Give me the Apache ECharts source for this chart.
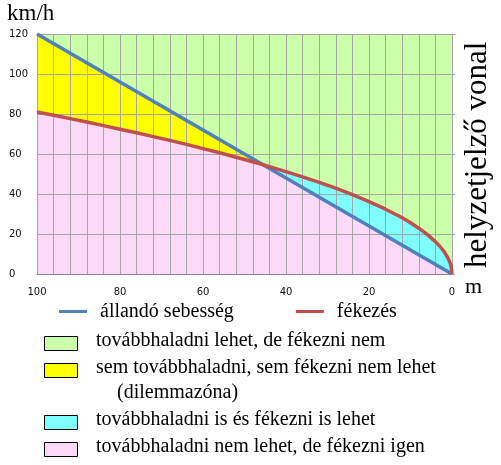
<!DOCTYPE html>
<html>
<head>
<meta charset="utf-8">
<script src="https://cdn.jsdelivr.net/npm/echarts@6/dist/echarts.min.js"></script>
<style>
  html, body { margin: 0; padding: 0; background: #fff; }
  #chart { width: 501px; height: 465px; }
</style>
</head>
<body>
<div id="chart"></div>
<script>
// Distance before the stop line (m) vs. speed (km/h)

// constant speed line: straight from (100 m, 120 km/h) to the line
const constDist  = [100, 0];
const constSpeed = [120, 0];

// braking curve
const brakeDist  = [100, 96, 92, 88, 84, 80, 76, 72, 68, 64, 60, 56, 52, 48, 44, 40, 36, 32, 28, 24, 20, 16, 12, 10, 8, 6, 4, 3, 2, 1, 0.5, 0.2, 0];
const brakeSpeed = [81, 79.4, 77.7, 76, 74.2, 72.4, 70.6, 68.7, 66.8, 64.8, 62.7, 60.6, 58.4, 56.1, 53.7, 51.2, 48.6, 45.8, 42.9, 39.7, 36.2, 32.4, 28.1, 25.6, 22.9, 19.8, 16.2, 14, 11.5, 8.1, 5.7, 3.6, 0];

// where the two curves cross
const crossing = [45.6, 54.7];

const xTicks = [0, 20, 40, 60, 80, 100];
const yTicks = [0, 20, 40, 60, 80, 100, 120];

const legendBoxes = [
  { color: '#CCFFAA', text: 'továbbhaladni lehet, de fékezni nem' },
  { color: '#FFFF00', text: 'sem továbbhaladni, sem fékezni nem lehet' },
  { color: '#80FFFF', text: 'továbbhaladni is és fékezni is lehet' },
  { color: '#FBD9F8', text: 'továbbhaladni nem lehet, de fékezni igen' },
];

const zip = (xs, ys) => xs.map((x, i) => [x, ys[i]]);
const constPts = zip(constDist, constSpeed);
const brakePts = zip(brakeDist, brakeSpeed);
// lower envelope: braking curve until the crossing, then the constant speed line
const lowerPts = brakePts.filter(p => p[0] > crossing[0]).concat([crossing, constPts[constPts.length - 1]]);

const GRID = '#A6A6A6';
const SERIF = '"Liberation Serif", "DejaVu Serif", serif';

const area = (name, data, color) => ({
  name, type: 'line', data, z: 1, silent: true, symbol: 'none',
  lineStyle: { width: 0 }, areaStyle: { color, opacity: 1 }, animation: false,
});

const chart = echarts.init(document.getElementById('chart'));

// legend boxes as graphics
const boxRows = [343, 370, 422, 449];
const graphics = [];
legendBoxes.forEach((b, i) => {
  graphics.push({ type: 'rect', left: 44, top: boxRows[i] - 7, shape: { width: 33, height: 14 },
    style: { fill: b.color, stroke: '#000', lineWidth: 1 } });
  graphics.push({ type: 'text', left: 96, top: boxRows[i] - 12,
    style: { text: b.text, font: '20px ' + SERIF, fill: '#000' } });
});
graphics.push({ type: 'text', left: 117, top: 383,
  style: { text: '(dilemmazóna)', font: '20px ' + SERIF, fill: '#000' } });
graphics.push({ type: 'text', left: 7, top: 2,
  style: { text: 'km/h', font: '23px ' + SERIF, fill: '#000' } });
graphics.push({ type: 'text', left: 465, top: 276,
  style: { text: 'm', font: '22px ' + SERIF, fill: '#000' } });
graphics.push({ type: 'text', x: 462, y: 268, rotation: Math.PI / 2,
  style: { text: 'helyzetjelző vonal', font: '31px ' + SERIF, fill: '#000', verticalAlign: 'top' } });

chart.setOption({
  animation: false,
  grid: { left: 37, right: 49, top: 34, bottom: 191, show: true, backgroundColor: '#CCFFAA', borderWidth: 0 },
  legend: {
    data: ['állandó sebesség', 'fékezés'],
    left: 59, top: 301.5, padding: 0, icon: 'rect',
    itemWidth: 28, itemHeight: 3, itemGap: 62,
    textStyle: { fontFamily: SERIF, fontSize: 20, color: '#000', padding: [0, 0, 0, 8] },
  },
  xAxis: {
    type: 'value', min: 0, max: 100, interval: 20, inverse: true, z: 3,
    axisLine: { show: true, lineStyle: { color: '#868686', width: 1 } },
    axisTick: { show: false },
    minorTick: { show: false, splitNumber: 5 },
    minorSplitLine: { show: true, lineStyle: { color: GRID, width: 1 } },
    splitLine: { show: true, lineStyle: { color: GRID, width: 1 } },
    axisLabel: { margin: 13, fontFamily: 'DejaVu Sans', fontSize: 10, color: '#111',
      formatter: v => xTicks.includes(v) ? String(v) : '' },
  },
  yAxis: [{
    type: 'value', min: 0, max: 120, interval: 20, position: 'left', z: 3,
    axisLine: { show: false }, axisTick: { show: false },
    splitLine: { show: true, lineStyle: { color: GRID, width: 1 } },
    axisLabel: { align: 'left', margin: 28, fontFamily: 'DejaVu Sans', fontSize: 10, color: '#111',
      formatter: v => yTicks.includes(v) ? String(v) : '' },
  }, {
    type: 'value', min: 0, max: 120, interval: 20, position: 'right', z: 3,
    axisLine: { show: true, lineStyle: { color: GRID, width: 1 } },
    axisTick: { show: true, length: 3, lineStyle: { color: GRID } },
    splitLine: { show: false }, axisLabel: { show: false },
  }],
  series: [
    area('cyan', brakePts, '#80FFFF'),
    area('yellow', constPts, '#FFFF00'),
    area('pink', lowerPts, '#FBD9F8'),
    { name: 'állandó sebesség', type: 'line', data: constPts, z: 5, symbol: 'none',
      color: '#4F81BD', lineStyle: { color: '#4F81BD', width: 3.5 } },
    { name: 'fékezés', type: 'line', data: brakePts, z: 6, symbol: 'none',
      color: '#C0504D', lineStyle: { color: '#C0504D', width: 3.5 } },
  ],
  graphic: graphics,
});
</script>
</body>
</html>
